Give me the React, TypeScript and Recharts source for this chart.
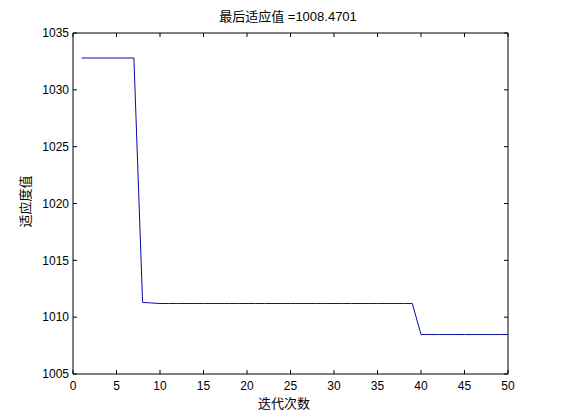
import { LineChart, Line, XAxis, YAxis } from "recharts";

// fitness value per iteration
const iterations = [
  1, 2, 3, 4, 5, 6, 7, 8, 9, 10, 11, 12, 13, 14, 15, 16, 17, 18, 19, 20, 21,
  22, 23, 24, 25, 26, 27, 28, 29, 30, 31, 32, 33, 34, 35, 36, 37, 38, 39, 40,
  41, 42, 43, 44, 45, 46, 47, 48, 49, 50,
];
const fitness = [
  1032.8, 1032.8, 1032.8, 1032.8, 1032.8, 1032.8, 1032.8, 1011.3, 1011.25,
  1011.2, 1011.2, 1011.2, 1011.2, 1011.2, 1011.2, 1011.2, 1011.2, 1011.2,
  1011.2, 1011.2, 1011.2, 1011.2, 1011.2, 1011.2, 1011.2, 1011.2, 1011.2,
  1011.2, 1011.2, 1011.2, 1011.2, 1011.2, 1011.2, 1011.2, 1011.2, 1011.2,
  1011.2, 1011.2, 1011.2, 1008.4701, 1008.4701, 1008.4701, 1008.4701,
  1008.4701, 1008.4701, 1008.4701, 1008.4701, 1008.4701, 1008.4701, 1008.4701,
  1008.4701,
];
const xTicks = [0, 5, 10, 15, 20, 25, 30, 35, 40, 45, 50];
const yTicks = [1005, 1010, 1015, 1020, 1025, 1030, 1035];

const title = "最后适应值 =1008.4701";
const xLabel = "迭代次数";
const yLabel = "适应度值";

const rows = iterations.map((it, i) => ({ iter: it, value: fitness[i] }));

const font = '"Liberation Sans", Arial, "Noto Sans CJK SC", sans-serif';
const tickStyle = { fontSize: 12, fill: "#000", fontFamily: font };
const tickLineStyle = { stroke: "#000", strokeWidth: 1 };
const blank = () => "";

export default function App() {
  return (
    <div
      style={{
        position: "relative",
        width: 561,
        height: 420,
        background: "#fff",
        fontFamily: font,
        color: "#000",
      }}
    >
      <style>{"body{margin:0}"}</style>
      <LineChart
        width={561}
        height={420}
        data={rows}
        margin={{ top: 32, right: 52, bottom: 16, left: 33 }}
      >
        <XAxis
          dataKey="iter"
          type="number"
          domain={[0, 50]}
          ticks={xTicks}
          allowDataOverflow
          height={30}
          stroke="#000"
          tickLine={tickLineStyle}
          tickSize={-4}
          tickMargin={11}
          tick={tickStyle}
        />
        <XAxis
          xAxisId="top"
          orientation="top"
          dataKey="iter"
          type="number"
          domain={[0, 50]}
          ticks={xTicks}
          allowDataOverflow
          height={1}
          stroke="#000"
          tickLine={tickLineStyle}
          tickSize={-4}
          tickFormatter={blank}
        />
        <YAxis
          type="number"
          domain={[1005, 1035]}
          ticks={yTicks}
          allowDataOverflow
          width={40}
          stroke="#000"
          tickLine={tickLineStyle}
          tickSize={-4}
          tickMargin={8}
          tick={tickStyle}
        />
        <YAxis
          yAxisId="right"
          orientation="right"
          type="number"
          domain={[1005, 1035]}
          ticks={yTicks}
          allowDataOverflow
          width={1}
          stroke="#000"
          tickLine={tickLineStyle}
          tickSize={-4}
          tickFormatter={blank}
        />
        {/* invisible copy so the top/right frame axes have a series */}
        <Line
          xAxisId="top"
          yAxisId="right"
          type="linear"
          dataKey="value"
          stroke="none"
          dot={false}
          legendType="none"
          isAnimationActive={false}
        />
        <Line
          type="linear"
          dataKey="value"
          stroke="#0a0aa8"
          strokeWidth={1}
          dot={false}
          isAnimationActive={false}
        />
      </LineChart>
      <div
        style={{
          position: "absolute",
          left: 0,
          top: 9,
          width: 576,
          textAlign: "center",
          fontSize: 13,
          lineHeight: "15px",
        }}
      >
        {title}
      </div>
      <div
        style={{
          position: "absolute",
          left: 0,
          top: 396,
          width: 568,
          textAlign: "center",
          fontSize: 13,
          lineHeight: "15px",
        }}
      >
        {xLabel}
      </div>
      <div
        style={{
          position: "absolute",
          left: -25,
          top: 193.5,
          width: 100,
          height: 15,
          textAlign: "center",
          fontSize: 13,
          lineHeight: "15px",
          transform: "rotate(-90deg)",
        }}
      >
        {yLabel}
      </div>
    </div>
  );
}
